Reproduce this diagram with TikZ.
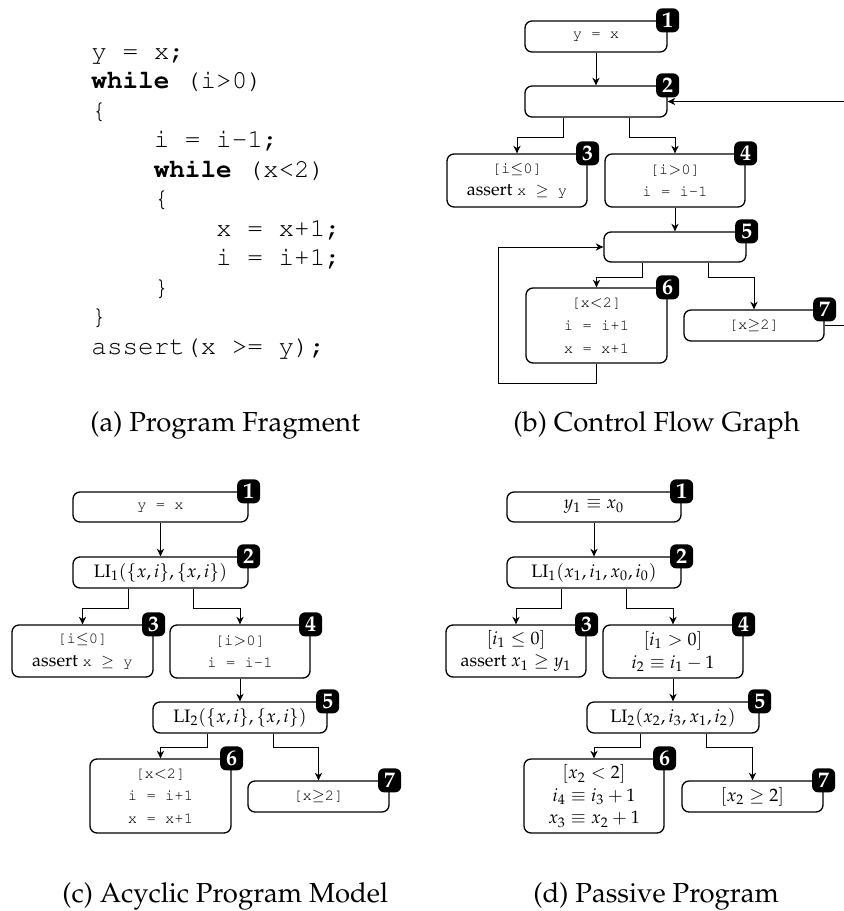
\documentclass[tikz,border=0pt]{standalone}
\usepackage[T1]{fontenc}
\usepackage{mathpazo}
\usepackage{courier}
\usetikzlibrary{arrows.meta,calc}
\newcommand\tts[1]{{\fontsize{7.75}{11.3}\selectfont\ttfamily #1}}
\begin{document}
\begin{tikzpicture}[x=0.5pt,y=-0.5pt,
  box/.style={draw,line width=0.65pt,rounded corners=3.5pt,inner sep=0pt,align=center,font=\fontsize{9}{11.3}\selectfont},
  badge/.style={fill=black,text=white,rounded corners=3pt,inner sep=0pt,minimum width=11.5pt,minimum height=12pt,font=\fontsize{11}{11}\selectfont\bfseries},
  arr/.style={line width=0.45pt,-{Stealth[length=3.8pt,width=3.6pt,inset=1.2pt]}},
  codeline/.style={anchor=base west,inner sep=0pt,font=\fontsize{13}{14.75}\selectfont\ttfamily},
  captxt/.style={anchor=base west,inner sep=0pt,font=\fontsize{13.75}{16}\selectfont}]
\path[use as bounding box,fill=white] (0,0) rectangle (843,911);

% (a) program fragment
\node[codeline] (l1) at (91,59) {y = x;};
\node[codeline] (l2) at (91,88.5) {\textbf{while} (i>0)};
\node[codeline] (l3) at (91,118) {\{};
\node[codeline] (l4) at (91,147.5) {\phantom{xxxx}i = i-1;};
\node[codeline] (l5) at (91,177) {\phantom{xxxx}\textbf{while} (x<2)};
\node[codeline] (l6) at (91,206.5) {\phantom{xxxx}\{};
\node[codeline] (l7) at (91,236) {\phantom{xxxxxxxx}x = x+1;};
\node[codeline] (l8) at (91,265.5) {\phantom{xxxxxxxx}i = i+1;};
\node[codeline] (l9) at (91,295) {\phantom{xxxx}\}};
\node[codeline] (l10) at (91,324.5) {\}};
\node[codeline] (l11) at (91,354) {assert(x >= y);};

% (b) control flow graph
\node[box,minimum width=71pt,minimum height=15.5pt] (b1) at (596,36.5) {\tts{y = x}};
\node[box,minimum width=71pt,minimum height=15.5pt] (b2) at (596,101.5) {};
\node[box,minimum width=70pt,minimum height=26.5pt] (b3) at (517,180.5) {\tts{[i$\leq$0]}\\assert \tts{x $\geq$ y}};
\node[box,minimum width=70pt,minimum height=26.5pt] (b4) at (675,180.5) {\tts{[i$>$0]}\\\tts{i = i-1}};
\node[box,minimum width=71pt,minimum height=15pt] (b5) at (675,247) {};
\node[box,minimum width=70.5pt,minimum height=37.5pt] (b6) at (596.5,325.5) {\tts{[x$<$2]}\\\tts{i = i+1}\\\tts{x = x+1}};
\node[box,minimum width=70pt,minimum height=15.5pt] (b7) at (754,325.5) {\tts{[x$\geq$2]}};
\foreach \n/\t in {b1/1,b2/2,b3/3,b4/4,b5/5,b6/6,b7/7}
  \node[badge] (\n-badge) at (\n.north east) {\t};
\coordinate (lb) at (498,383);
\coordinate (rt) at (870,200);
\draw[arr] (b1.south) -- (b2.north);
\draw[arr] ([xshift=-16.5pt]b2.south) -- ++(0,20) -| (b3.north);
\draw[arr] ([xshift=16.5pt]b2.south) -- ++(0,20) -| (b4.north);
\draw[arr] (b4.south) -- (b5.north);
\draw[arr] ([xshift=-16.5pt]b5.south) -- ++(0,15) -| (b6.north);
\draw[arr] ([xshift=16.5pt]b5.south) -- ++(0,15) -| (b7.north);
\draw[arr] (b6.south) |- (lb) |- (b5.west);
\draw[arr] (b7.east) -| (rt) |- (b2.east);

% (c) acyclic program model
\node[box,minimum width=87.5pt,minimum height=15pt] (c1) at (160.5,507) {\tts{y = x}};
\node[box,minimum width=87.5pt,minimum height=15.5pt] (c2) at (160.5,572.5) {$\mathrm{LI}_1(\{x,i\},\{x,i\})$};
\node[box,minimum width=70.5pt,minimum height=26pt] (c3) at (82.5,651) {\tts{[i$\leq$0]}\\assert \tts{x $\geq$ y}};
\node[box,minimum width=70pt,minimum height=26.5pt] (c4) at (240,651.5) {\tts{[i$>$0]}\\\tts{i = i-1}};
\node[box,minimum width=87pt,minimum height=15.5pt] (c5) at (240,717.5) {$\mathrm{LI}_2(\{x,i\},\{x,i\})$};
\node[box,minimum width=70.5pt,minimum height=37pt] (c6) at (160.5,796) {\tts{[x$<$2]}\\\tts{i = i+1}\\\tts{x = x+1}};
\node[box,minimum width=70.5pt,minimum height=15.5pt] (c7) at (318.5,796.5) {\tts{[x$\geq$2]}};
\foreach \n/\t in {c1/1,c2/2,c3/3,c4/4,c5/5,c6/6,c7/7}
  \node[badge] (\n-badge) at (\n.north east) {\t};
\draw[arr] (c1.south) -- (c2.north);
\draw[arr] ([xshift=-16.25pt]c2.south) -- ++(0,20) -| (c3.north);
\draw[arr] ([xshift=16.25pt]c2.south) -- ++(0,20) -| (c4.north);
\draw[arr] (c4.south) -- (c5.north);
\draw[arr] ([xshift=-16.5pt]c5.south) -- ++(0,14) -| (c6.north);
\draw[arr] ([xshift=16.5pt]c5.south) -- ++(0,14) -| (c7.north);

% (d) passive program
\node[box,minimum width=87pt,minimum height=15pt] (d1) at (594,507) {$y_1 \equiv x_0$};
\node[box,minimum width=87pt,minimum height=15.5pt] (d2) at (594,572.5) {$\mathrm{LI}_1(x_1,i_1,x_0,i_0)$};
\node[box,minimum width=70pt,minimum height=26pt] (d3) at (516,651) {$[i_1 \leq 0]$\\assert $x_1 \geq y_1$};
\node[box,minimum width=70pt,minimum height=26.5pt] (d4) at (673,651.5) {$[i_1 > 0]$\\$i_2 \equiv i_1 - 1$};
\node[box,minimum width=86pt,minimum height=15.5pt] (d5) at (673,717.5) {$\mathrm{LI}_2(x_2,i_3,x_1,i_2)$};
\node[box,minimum width=70pt,minimum height=37pt] (d6) at (594,796) {$[x_2 < 2]$\\$i_4 \equiv i_3 + 1$\\$x_3 \equiv x_2 + 1$};
\node[box,minimum width=70.5pt,minimum height=15.5pt] (d7) at (752.5,796.5) {$[x_2 \geq 2]$};
\foreach \n/\t in {d1/1,d2/2,d3/3,d4/4,d5/5,d6/6,d7/7}
  \node[badge] (\n-badge) at (\n.north east) {\t};
\draw[arr] (d1.south) -- (d2.north);
\draw[arr] ([xshift=-16.25pt]d2.south) -- ++(0,20) -| (d3.north);
\draw[arr] ([xshift=16.25pt]d2.south) -- ++(0,20) -| (d4.north);
\draw[arr] (d4.south) -- (d5.north);
\draw[arr] ([xshift=-16.25pt]d5.south) -- ++(0,14) -| (d6.north);
\draw[arr] ([xshift=16.75pt]d5.south) -- ++(0,14) -| (d7.north);

% captions
\node[captxt] (capa) at (90,431) {(a) Program Fragment};
\node[captxt] (capb) at (513,431) {(b) Control Flow Graph};
\node[captxt] (capc) at (62,902) {(c) Acyclic Program Model};
\node[captxt] (capd) at (533,902) {(d) Passive Program};
\end{tikzpicture}
\end{document}
